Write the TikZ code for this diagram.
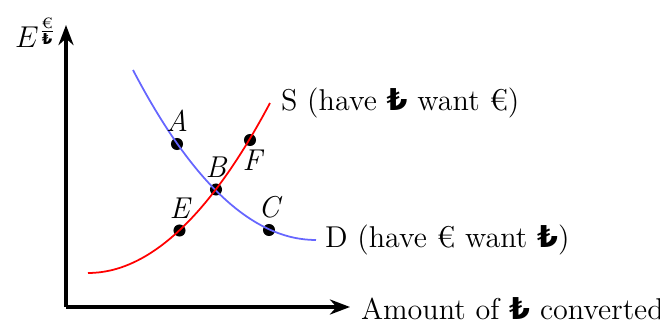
\documentclass[tikz,border=0pt]{standalone}
\usepackage{amsmath}
\usepackage{fontspec}
\usepackage{xcolor}
\usepackage{tikz}
\usetikzlibrary{arrows.meta, positioning}
\newfontfamily\lirafont{DejaVu Sans Bold}
\newcommand{\lira}{{\lirafont ₺}}
\definecolor{supred}{RGB}{255,0,0}
\definecolor{demblue}{RGB}{102,102,255}
\tikzset{
  axis/.style={-{Stealth[length=8pt,width=6pt]}, line width=1.4pt, color=black},
  supply/.style={color=supred, line width=0.7pt},
  demand/.style={color=demblue, line width=0.7pt},
  dot/.style={circle, fill=black, inner sep=0pt, minimum size=4.8pt},
  ptlabel/.style={font=\large\itshape, inner sep=1pt},
  curvelabel/.style={font=\large, anchor=west, inner sep=1pt}
}
\begin{document}
\begin{tikzpicture}[x=0.014cm, y=0.014cm]
  \useasboundingbox (0,0) rectangle (660,327);
  % Axes
  \coordinate (origin) at (66,20);
  \coordinate (ytop) at (66,302);
  \coordinate (xend) at (350,20);
  \draw[axis] (origin) -- (ytop);
  \draw[axis] (origin) -- (xend);
  \node[font=\large, anchor=east, inner sep=1pt] (ylab) at (60,294) {$E^{\frac{\text{€}}{\text{\lira}}}$};
  \node[curvelabel] (xlab) at (358,18) {Amount of \lira{} converted};

  % Points
  \coordinate (s0) at (88,54);
  \coordinate (s1) at (270,224);
  \coordinate (d0) at (133,257);
  \coordinate (d1) at (316,87);
  \node[dot] (E) at (179.5,96.5) {};
  \node[dot] (B) at (216,137.5) {};
  \node[dot] (F) at (250,187) {};
  \node[dot] (A) at (177,183) {};
  \node[dot] (C) at (269,97) {};

  % Curves
  \draw[demand] (d0) .. controls (192,144) and (253,87) .. (d1);
  \draw[supply] (s0) .. controls (149,54) and (210,111) .. (s1);

  % Labels
  \node[ptlabel, above=1pt of A] {A};
  \node[ptlabel, above=1pt of B] {B};
  \node[ptlabel, below right=1pt and -6pt of F] {F};
  \node[ptlabel, above=1pt of E] {E};
  \node[ptlabel, above=1pt of C] {C};
  \node[curvelabel] (slab) at (278,224) {S (have \lira{} want €)};
  \node[curvelabel] (dlab) at (322,87) {D (have € want \lira)};
\end{tikzpicture}
\end{document}
